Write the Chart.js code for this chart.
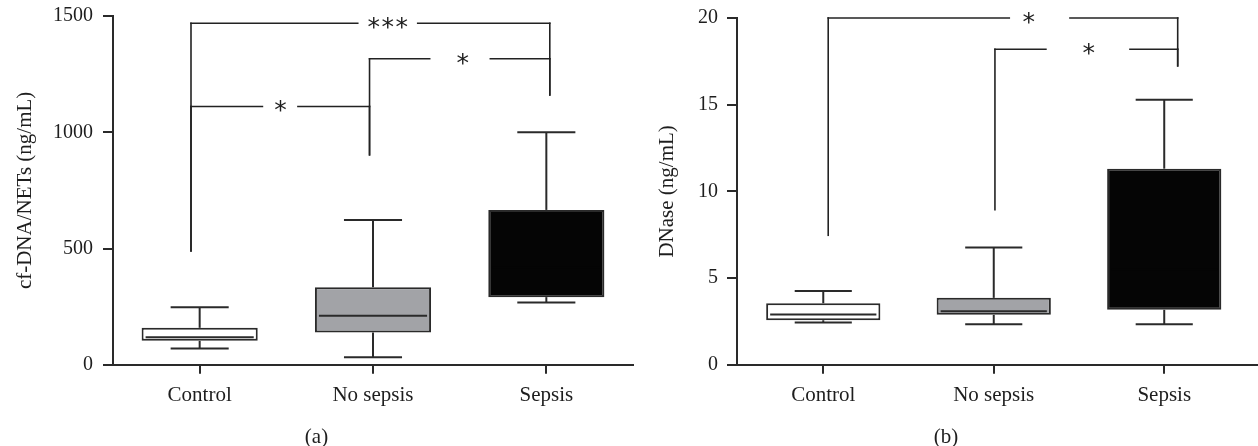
<!DOCTYPE html>
<html><head><meta charset="utf-8">
<script src="https://cdn.jsdelivr.net/npm/chart.js@4/dist/chart.umd.min.js"></script>
<style>
html,body{margin:0;padding:0;background:#fff;overflow:hidden;width:1258px;height:446px;}
#wa{position:absolute;left:0;top:0;width:634px;height:450px;}
#wb{position:absolute;left:634px;top:0;width:630px;height:450px;}
</style></head><body>
<div id="wa"><canvas id="ca"></canvas></div>
<div id="wb"><canvas id="cb"></canvas></div>
<script>
const categories = ['Control', 'No sepsis', 'Sepsis'];
const boxFills = ['#ffffff', '#a2a3a7', '#050505'];

// (a) cf-DNA/NETs (ng/mL)
const cfMin    = [70, 33, 268];
const cfQ1     = [103, 139, 291];
const cfMedian = [119, 211, 420];
const cfQ3     = [159, 334, 666];
const cfMax    = [248, 623, 1000];
const cfTicks  = [0, 500, 1000, 1500];
// [xFrom, xTo, level, leftLegEnd, rightLegEnd, label, labelX, gapFrom, gapTo]
const cfBrackets = [
  [-0.05, 2.02, 1469, 490, 1161, '***', 1.085, 0.912, 1.258],
  [-0.05, 0.98, 1111, 490, 903, '*', 0.467, 0.362, 0.567],
  [0.98, 2.02, 1316, 903, 1161, '*', 1.518, 1.327, 1.677]
];

// (b) DNase (ng/mL)
const dnMin    = [2.44, 2.34, 2.34];
const dnQ1     = [2.57, 2.88, 3.17];
const dnMedian = [2.90, 3.09, 5.5];
const dnQ3     = [3.55, 3.86, 11.31];
const dnMax    = [4.26, 6.77, 15.28];
const dnTicks  = [0, 5, 10, 15, 20];
const dnBrackets = [
  [0.029, 2.079, 20.0, 7.47, 17.24, '*', 1.205, 1.091, 1.447],
  [1.007, 2.079, 18.2, 8.95, 17.24, '*', 1.557, 1.306, 1.799]
];

const SERIF = "'Liberation Serif', 'Times New Roman', serif";
const INK = '#2a2a2a';
const TXT = '#1e1e1e';

function makeChart(id, o) {
  const boxPlugin = {
    id: 'boxes' + id,
    afterDatasetsDraw(chart) {
      const ctx = chart.ctx, xs = chart.scales.x, ys = chart.scales.y;
      const line = (a, b, c, d) => { ctx.beginPath(); ctx.moveTo(a, b); ctx.lineTo(c, d); ctx.stroke(); };
      const meta = chart.getDatasetMeta(0);
      ctx.save();
      ctx.lineCap = 'butt';
      meta.data.forEach((bar, i) => {
        const cx = bar.x, hw = bar.width / 2, cap = bar.width / 4;
        const yMax = ys.getPixelForValue(o.max[i]), yQ3 = ys.getPixelForValue(o.q3[i]);
        const yMin = ys.getPixelForValue(o.min[i]), yQ1 = ys.getPixelForValue(o.q1[i]);
        const yMed = ys.getPixelForValue(o.median[i]);
        ctx.strokeStyle = INK; ctx.lineWidth = 2;
        line(cx, yQ3, cx, yMax); line(cx - cap, yMax, cx + cap, yMax);
        line(cx, yQ1, cx, yMin); line(cx - cap, yMin, cx + cap, yMin);
        ctx.strokeStyle = i === 2 ? '#050505' : INK;
        line(cx - hw + 4, yMed, cx + hw - 4, yMed);
      });
      ctx.lineWidth = 1.6; ctx.strokeStyle = '#222'; ctx.lineCap = 'square';
      ctx.font = o.starFont; ctx.fillStyle = TXT; ctx.textAlign = 'center'; ctx.textBaseline = 'alphabetic';
      const m = ctx.measureText('*');
      const off = (m.actualBoundingBoxAscent - m.actualBoundingBoxDescent) / 2;
      o.brackets.forEach(b => {
        const [x1, x2, lv, l1, l2, label, lx, g1, g2] = b;
        const px1 = xs.getPixelForValue(x1), px2 = xs.getPixelForValue(x2);
        const py = ys.getPixelForValue(lv);
        line(px1, py, xs.getPixelForValue(g1), py);
        line(xs.getPixelForValue(g2), py, px2, py);
        line(px1, py, px1, ys.getPixelForValue(l1));
        line(px2, py, px2, ys.getPixelForValue(l2));
        const n = label.length, cxl = xs.getPixelForValue(lx);
        for (let k = 0; k < n; k++) {
          ctx.fillText(label[k], cxl + (k - (n - 1) / 2) * o.starPitch, py + off);
        }
      });
      ctx.restore();
    }
  };

  return new Chart(document.getElementById(id), {
    type: 'bar',
    data: {
      datasets: [{
        data: categories.map((c, i) => ({ x: i, y: [o.q1[i], o.q3[i]] })),
        backgroundColor: boxFills,
        borderColor: INK,
        borderWidth: 2,
        borderSkipped: false,
        barPercentage: 0.67,
        categoryPercentage: 1
      }]
    },
    options: {
      responsive: true, maintainAspectRatio: false, animation: false, events: [],
      layout: { padding: { top: o.padTop, right: o.padRight, left: 0, bottom: 0 } },
      plugins: {
        legend: { display: false }, tooltip: { enabled: false },
        title: { display: true, text: o.panel, position: 'bottom', color: TXT,
                 font: { family: SERIF, size: 21, weight: 'normal' }, padding: 0 }
      },
      scales: {
        x: {
          type: 'linear', min: o.xMin, max: o.xMax, offset: false,
          afterBuildTicks: s => { s.ticks = categories.map((c, i) => ({ value: i })); },
          afterFit: s => { s.height = o.xAxisHeight; },
          ticks: { callback: v => categories[v], autoSkip: false, maxRotation: 0, color: TXT,
                   font: { family: SERIF, size: 21 }, padding: 9 },
          grid: { offset: false, drawOnChartArea: false, tickLength: 9, color: INK, lineWidth: 2 },
          border: { color: INK, width: 2 }
        },
        y: {
          min: o.ticks[0], max: o.ticks[o.ticks.length - 1],
          afterBuildTicks: s => { s.ticks = o.ticks.map(v => ({ value: v })); },
          afterFit: s => { s.width = o.yAxisWidth; s.paddingTop = 0; s.paddingBottom = 0; },
          ticks: { callback: v => String(v), color: TXT, font: { family: SERIF, size: 20 }, padding: o.yTickPad },
          grid: { drawOnChartArea: false, tickLength: 10, color: INK, lineWidth: 2 },
          border: { color: INK, width: 2 },
          title: { display: true, text: o.yTitle, color: TXT, font: { family: SERIF, size: 21 },
                   padding: { top: o.yTitlePad, bottom: 0 } }
        }
      }
    },
    plugins: [boxPlugin]
  });
}

makeChart('ca', {
  min: cfMin, q1: cfQ1, median: cfMedian, q3: cfQ3, max: cfMax, ticks: cfTicks,
  brackets: cfBrackets, panel: '(a)', yTitle: 'cf-DNA/NETs (ng/mL)',
  xMin: -0.5, xMax: 2.5, padTop: 16, padRight: 1, yAxisWidth: 113, xAxisHeight: 60,
  yTickPad: 10, yTitlePad: 13, starFont: "25px 'DejaVu Sans'", starPitch: 14
});
makeChart('cb', {
  min: dnMin, q1: dnQ1, median: dnMedian, q3: dnQ3, max: dnMax, ticks: dnTicks,
  brackets: dnBrackets, panel: '(b)', yTitle: 'DNase (ng/mL)',
  xMin: -0.506, xMax: 2.55, padTop: 18, padRight: 6, yAxisWidth: 103, xAxisHeight: 60,
  yTickPad: 9, yTitlePad: 21, starFont: "25px 'DejaVu Sans'", starPitch: 14
});
</script>
</body></html>
